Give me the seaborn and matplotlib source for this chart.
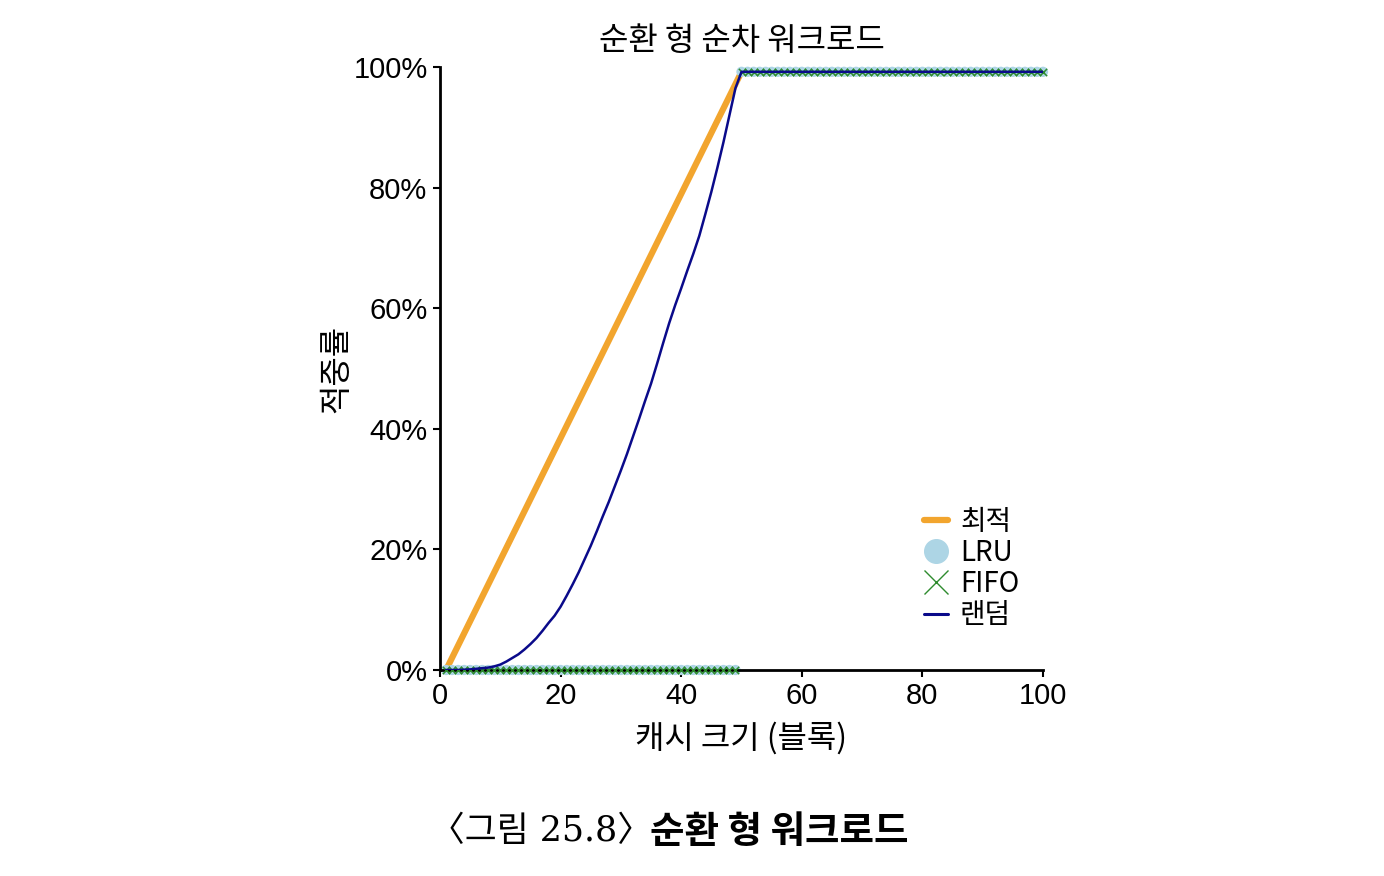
import numpy as np
import pandas as pd
import seaborn as sns
import matplotlib.pyplot as plt
from matplotlib.lines import Line2D

# cache size (blocks) vs hit rate (%) for a looping workload of 50 blocks
sizes = list(range(1, 101))
opt_x = [1, 50, 100]
opt_y = [0.0, 99.2, 99.2]
lru_hits = [0.0] * 49 + [99.2] * 51
fifo_hits = [0.0] * 49 + [99.2] * 51
rand_hits = [
    0.0, 0.0, 0.0, 0.05, 0.1, 0.2, 0.3, 0.4, 0.6, 0.9,
    1.4, 2.0, 2.6, 3.4, 4.3, 5.3, 6.5, 7.8, 9.0, 10.5,
    12.3, 14.2, 16.2, 18.4, 20.6, 23.0, 25.5, 27.9, 30.5, 33.1,
    35.8, 38.7, 41.6, 44.6, 47.5, 50.8, 54.2, 57.5, 60.5, 63.3,
    66.2, 69.0, 72.0, 75.6, 79.3, 83.3, 87.5, 92.0, 96.5, 99.2,
] + [99.2] * 50

y_ticks = [0, 20, 40, 60, 80, 100]
y_tick_labels = ["0%", "20%", "40%", "60%", "80%", "100%"]
x_ticks = [0, 20, 40, 60, 80, 100]

c_opt = "#F2A52E"
c_lru = "#ADD5E5"
c_fifo = "#2E8B2E"
c_rand = "#0A0A8A"

sns.set_style("ticks")
plt.rcParams["font.family"] = ["Liberation Sans", "Noto Sans CJK KR"]
plt.rcParams["text.color"] = "black"
plt.rcParams["axes.labelcolor"] = "black"
plt.rcParams["xtick.color"] = "black"
plt.rcParams["ytick.color"] = "black"
kr = ["Noto Sans CJK KR", "DejaVu Sans"]

fig = plt.figure(figsize=(13.84, 8.76), dpi=100)
ax = fig.add_axes([440 / 1384, 1 - 670 / 876, 603 / 1384, 603 / 876])

sns.lineplot(x=opt_x, y=opt_y, ax=ax, color=c_opt, linewidth=4.5, zorder=1)
sns.scatterplot(x=sizes, y=lru_hits, ax=ax, color=c_lru, s=55, marker="o",
                edgecolor="none", zorder=2, clip_on=False)
sns.scatterplot(x=sizes, y=fifo_hits, ax=ax, color=c_fifo, s=28, marker="x",
                linewidth=1.1, zorder=3, clip_on=False)
sns.lineplot(x=sizes, y=rand_hits, ax=ax, color=c_rand, linewidth=1.8, zorder=4)

ax.set_xlim(0, 100)
ax.set_ylim(0, 100)
ax.set_xticks(x_ticks)
ax.set_yticks(y_ticks)
ax.set_yticklabels(y_tick_labels)
ax.tick_params(axis="both", labelsize=21, length=5, width=1.5, pad=4)
for s in ["left", "bottom"]:
    ax.spines[s].set_linewidth(2)
    ax.spines[s].set_color("black")
sns.despine(ax=ax)

ax.set_title("순환 형 순차 워크로드", fontsize=23, family=kr, pad=12)
ax.set_xlabel("캐시 크기 (블록)", fontsize=23, family=kr, labelpad=8)
ax.set_ylabel("적중률", fontsize=23, family=kr, labelpad=1)

handles = [
    Line2D([], [], color=c_opt, linewidth=4.5),
    Line2D([], [], color=c_lru, marker="o", linestyle="none", markersize=17),
    Line2D([], [], color=c_fifo, marker="x", linestyle="none", markersize=17, markeredgewidth=1.0),
    Line2D([], [], color=c_rand, linewidth=2.2),
]
ax.legend(handles, ["최적", "LRU", "FIFO", "랜덤"], loc="upper left",
          bbox_to_anchor=(910 / 1384, 1 - 493 / 876), bbox_transform=fig.transFigure,
          frameon=False, prop={"family": kr, "size": 20}, handlelength=0.85,
          handletextpad=0.45, labelspacing=0.04, borderpad=0)

fig.text(652 / 1384, 1 - 831 / 876, "〈그림 25.8〉", ha="right", va="center",
         fontsize=25, family=["DejaVu Serif", "Noto Sans CJK KR"])
fig.text(650 / 1384, 1 - 831 / 876, "순환 형 워크로드", ha="left", va="center",
         fontsize=27, fontweight="bold", family=kr)

fig.savefig("out.png", dpi=100)
